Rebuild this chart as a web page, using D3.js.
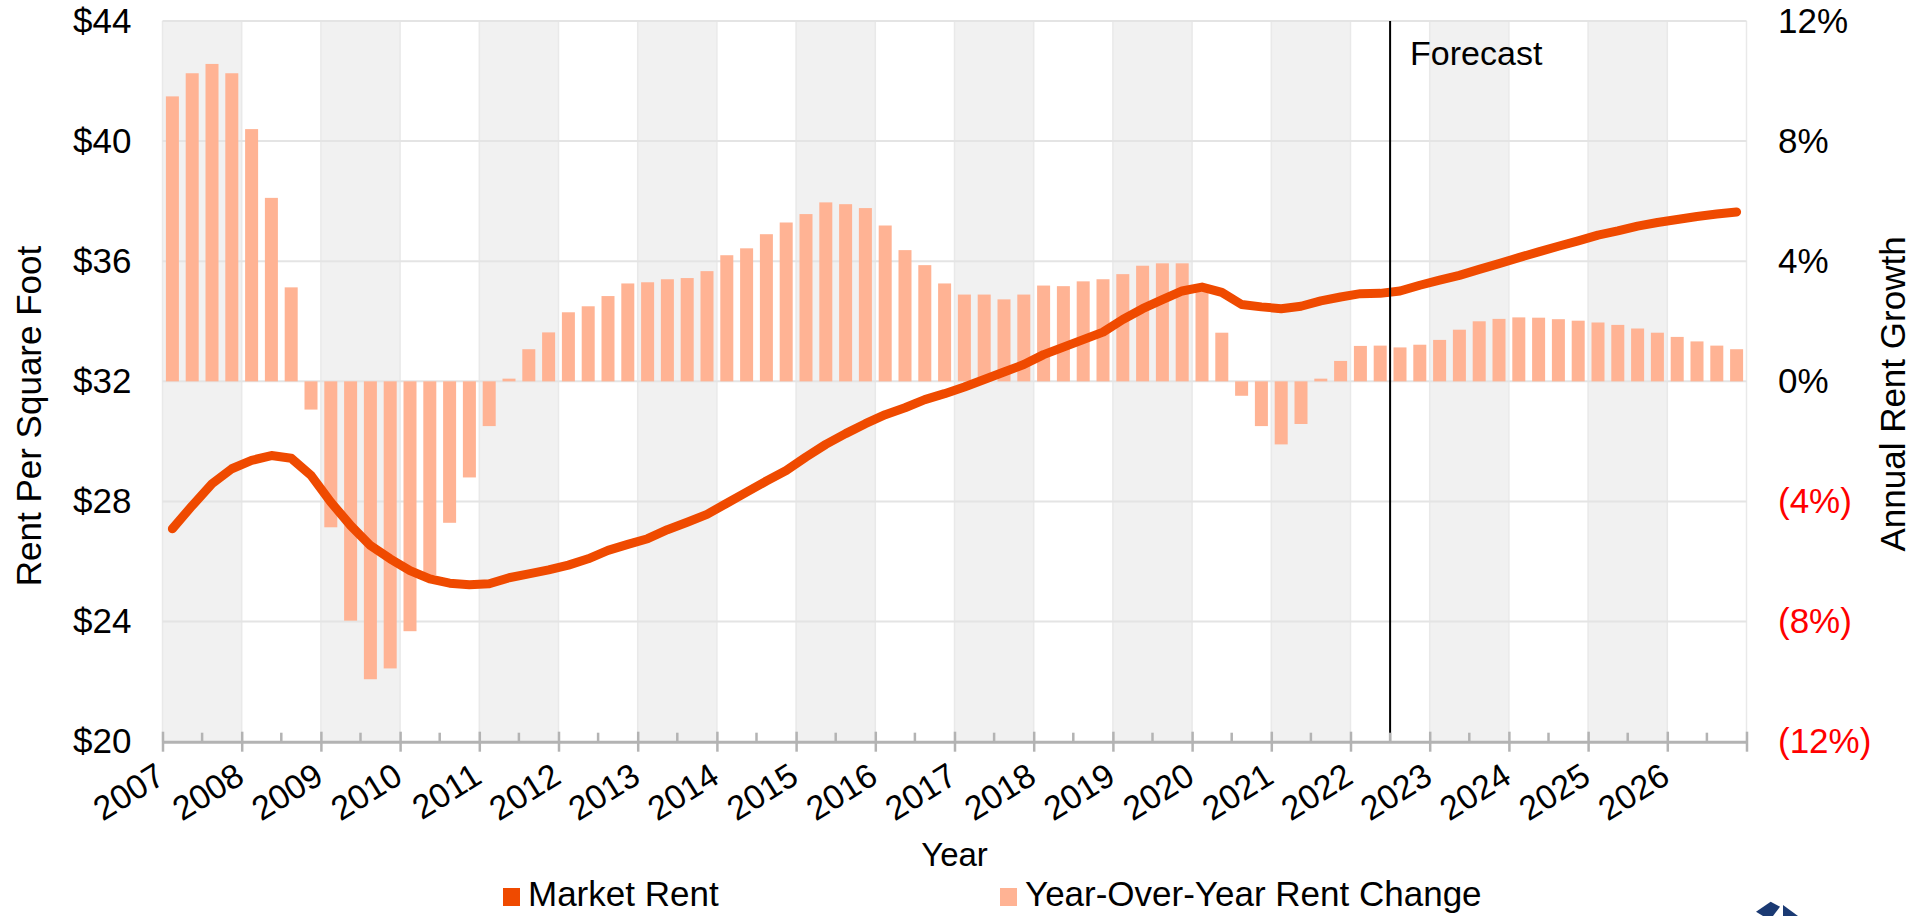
<!DOCTYPE html>
<html>
<head>
<meta charset="utf-8">
<script src="https://cdn.jsdelivr.net/npm/d3@7"></script>
<style>
  body { margin: 0; background: #fff; }
  text { font-family: "Liberation Sans", Arial, sans-serif; fill: #000; }
</style>
</head>
<body>
<div id="chart"></div>
<script>

// year tick labels (2027 is only the closing tick)
var years = [2007, 2008, 2009, 2010, 2011, 2012, 2013, 2014, 2015, 2016,
  2017, 2018, 2019, 2020, 2021, 2022, 2023, 2024, 2025, 2026, 2027];

// quarterly year-over-year rent change (%), 2007 Q1 .. 2026 Q4
var rentGrowth = [
  9.49, 10.26, 10.57, 10.26,
  8.4, 6.11, 3.13, -0.94,
  -4.86, -7.97, -9.92, -9.56,
  -8.32, -6.45, -4.71, -3.2,
  -1.49, 0.09, 1.07, 1.63,
  2.3, 2.5, 2.84, 3.26,
  3.3, 3.4, 3.44, 3.67,
  4.2, 4.43, 4.9, 5.29,
  5.57, 5.96, 5.9, 5.77,
  5.19, 4.37, 3.87, 3.26,
  2.89, 2.89, 2.73, 2.89,
  3.19, 3.17, 3.33, 3.4,
  3.57, 3.85, 3.93, 3.93,
  3.1, 1.62, -0.48, -1.49,
  -2.1, -1.42, 0.09, 0.68,
  1.18, 1.19, 1.13, 1.22,
  1.38, 1.72, 2.0, 2.08,
  2.13, 2.12, 2.07, 2.02,
  1.96, 1.88, 1.76, 1.62,
  1.48, 1.33, 1.19, 1.07
];

// quarterly market rent per sq ft ($)
var marketRent = [
  27.09, 27.86, 28.59, 29.09,
  29.37, 29.53, 29.44, 28.87,
  27.98, 27.2, 26.53, 26.09,
  25.7, 25.42, 25.28, 25.23,
  25.26, 25.46, 25.59, 25.72,
  25.88, 26.09, 26.37, 26.57,
  26.76, 27.06, 27.31, 27.57,
  27.94, 28.31, 28.68, 29.03,
  29.48, 29.9, 30.26, 30.59,
  30.89, 31.12, 31.39, 31.59,
  31.81, 32.06, 32.31, 32.56,
  32.89, 33.14, 33.39, 33.64,
  34.06, 34.42, 34.72, 35.01,
  35.14, 34.96, 34.56, 34.48,
  34.42, 34.5, 34.68, 34.81,
  34.92, 34.93, 35.01, 35.2,
  35.37, 35.53, 35.73, 35.92,
  36.12, 36.31, 36.5, 36.68,
  36.87, 37.01, 37.17, 37.29,
  37.39, 37.49, 37.57, 37.64
];

var rentTicks = [20, 24, 28, 32, 36, 40, 44];
var growthTicks = [-12, -8, -4, 0, 4, 8, 12];
var forecastStart = 2022.5;

var svgWidth = 1932;
var svgHeight = 916;
var margin = { top: 21, right: 185.5, bottom: 174.3, left: 162.5 };

var width = svgWidth - margin.left - margin.right;
var height = svgHeight - margin.top - margin.bottom;

var lineColor = "#ef4a00";
var barColor = "#ffb394";

var svg = d3.select("#chart")
  .append("svg")
  .attr("width", svgWidth)
  .attr("height", svgHeight);

var chartGroup = svg.append("g")
  .attr("transform", `translate(${margin.left}, ${margin.top})`);

var xScale = d3.scaleLinear().domain([2007, 2027]).range([0, width]);
var yRent = d3.scaleLinear().domain([20, 44]).range([height, 0]);
var yGrowth = d3.scaleLinear().domain([-12, 12]).range([height, 0]);

var quarterX = (d, i) => xScale(2007 + (i + 0.5) / 4);

// alternating year bands
chartGroup.selectAll(".band")
  .data(years.slice(0, -1))
  .enter()
  .append("rect")
  .attr("x", d => xScale(d))
  .attr("y", 0)
  .attr("width", xScale(2008) - xScale(2007))
  .attr("height", height)
  .attr("fill", (d, i) => i % 2 === 0 ? "#f1f1f1" : "#ffffff");

chartGroup.selectAll(".vgrid")
  .data(years)
  .enter()
  .append("line")
  .attr("x1", d => xScale(d))
  .attr("x2", d => xScale(d))
  .attr("y1", 0)
  .attr("y2", height)
  .attr("stroke", "#e9e9e9")
  .attr("stroke-width", 1.5);

// horizontal gridlines
chartGroup.selectAll(".hgrid")
  .data(rentTicks.slice(1))
  .enter()
  .append("line")
  .attr("x1", 0)
  .attr("x2", width)
  .attr("y1", d => yRent(d))
  .attr("y2", d => yRent(d))
  .attr("stroke", "#e4e4e4")
  .attr("stroke-width", 2);

// bars
chartGroup.selectAll(".bar")
  .data(rentGrowth)
  .enter()
  .append("rect")
  .attr("x", (d, i) => quarterX(d, i) - 6.5)
  .attr("width", 13)
  .attr("y", d => yGrowth(Math.max(d, 0)))
  .attr("height", d => Math.abs(yGrowth(d) - yGrowth(0)))
  .attr("fill", barColor);

// market rent line
var rentLine = d3.line()
  .x((d, i) => quarterX(d, i))
  .y(d => yRent(d));

chartGroup.append("path")
  .datum(marketRent)
  .attr("d", rentLine)
  .attr("fill", "none")
  .attr("stroke", lineColor)
  .attr("stroke-width", 9)
  .attr("stroke-linejoin", "round")
  .attr("stroke-linecap", "round");

// forecast marker
chartGroup.append("line")
  .attr("x1", xScale(forecastStart))
  .attr("x2", xScale(forecastStart))
  .attr("y1", 0)
  .attr("y2", height)
  .attr("stroke", "#000")
  .attr("stroke-width", 2);

chartGroup.append("text")
  .attr("x", xScale(forecastStart) + 20)
  .attr("y", 44)
  .style("font-size", "34px")
  .text("Forecast");

// x axis
var bottomAxis = d3.axisBottom(xScale)
  .tickValues(years)
  .tickSize(10)
  .tickSizeOuter(0)
  .tickFormat(d => d === 2027 ? "" : d);

var xAxis = chartGroup.append("g")
  .attr("transform", `translate(0, ${height})`)
  .call(bottomAxis);

xAxis.select(".domain")
  .attr("stroke", "#b3b3b3")
  .attr("stroke-width", 3);

xAxis.selectAll(".tick line")
  .attr("y1", -10)
  .attr("y2", 10)
  .attr("stroke", "#b3b3b3")
  .attr("stroke-width", 2.5);

xAxis.selectAll(".tick text")
  .attr("y", 0)
  .attr("dy", 0)
  .attr("transform", "translate(4, 40) rotate(-32)")
  .style("text-anchor", "end")
  .style("font-size", "34px");

var minorTicks = years.slice(0, -1).map(d => d + 0.5);
chartGroup.selectAll(".minor")
  .data(minorTicks)
  .enter()
  .append("line")
  .attr("x1", d => xScale(d))
  .attr("x2", d => xScale(d))
  .attr("y1", height - 9)
  .attr("y2", height)
  .attr("stroke", "#b3b3b3")
  .attr("stroke-width", 2.5);

// left axis
var leftAxis = d3.axisLeft(yRent)
  .tickValues(rentTicks)
  .tickSize(0)
  .tickPadding(31)
  .tickFormat(d => "$" + d);

var yAxis = chartGroup.append("g").call(leftAxis);
yAxis.select(".domain").remove();
yAxis.selectAll("text").style("font-size", "35px");

// right axis
var rightAxis = d3.axisRight(yGrowth)
  .tickValues(growthTicks)
  .tickSize(0)
  .tickPadding(31.5)
  .tickFormat(d => d < 0 ? `(${-d}%)` : `${d}%`);

var y2Axis = chartGroup.append("g")
  .attr("transform", `translate(${width}, 0)`)
  .call(rightAxis);
y2Axis.select(".domain").remove();
y2Axis.selectAll("text")
  .style("font-size", "35px")
  .style("fill", d => d < 0 ? "#ff0000" : "#000");

// axis titles
svg.append("text")
  .attr("transform", "translate(41, 416) rotate(-90)")
  .style("text-anchor", "middle")
  .style("font-size", "35px")
  .text("Rent Per Square Foot");

svg.append("text")
  .attr("transform", "translate(1905, 394) rotate(-90)")
  .style("text-anchor", "middle")
  .style("font-size", "35px")
  .text("Annual Rent Growth");

svg.append("text")
  .attr("x", margin.left + width / 2)
  .attr("y", 866)
  .style("text-anchor", "middle")
  .style("font-size", "33px")
  .text("Year");

// legend
var legendItems = [
  { label: "Market Rent", color: lineColor, x: 503 },
  { label: "Year-Over-Year Rent Change", color: barColor, x: 1000 }
];

var legend = svg.selectAll(".legend")
  .data(legendItems)
  .enter()
  .append("g")
  .attr("transform", d => `translate(${d.x}, 888)`);

legend.append("rect")
  .attr("width", 17)
  .attr("height", 18)
  .attr("fill", d => d.color);

legend.append("text")
  .attr("x", 25)
  .attr("y", 18)
  .style("font-size", "35px")
  .text(d => d.label);

// clipped logo corner
svg.append("path")
  .attr("d", "M1756,911.7 L1770.7,901.7 L1780,906.7 L1773,916 L1763,916 Z")
  .attr("fill", "#1b3a73");
svg.append("path")
  .attr("d", "M1783,905 L1798,916 L1783,916 Z")
  .attr("fill", "#1b3a73");

</script>
</body>
</html>
